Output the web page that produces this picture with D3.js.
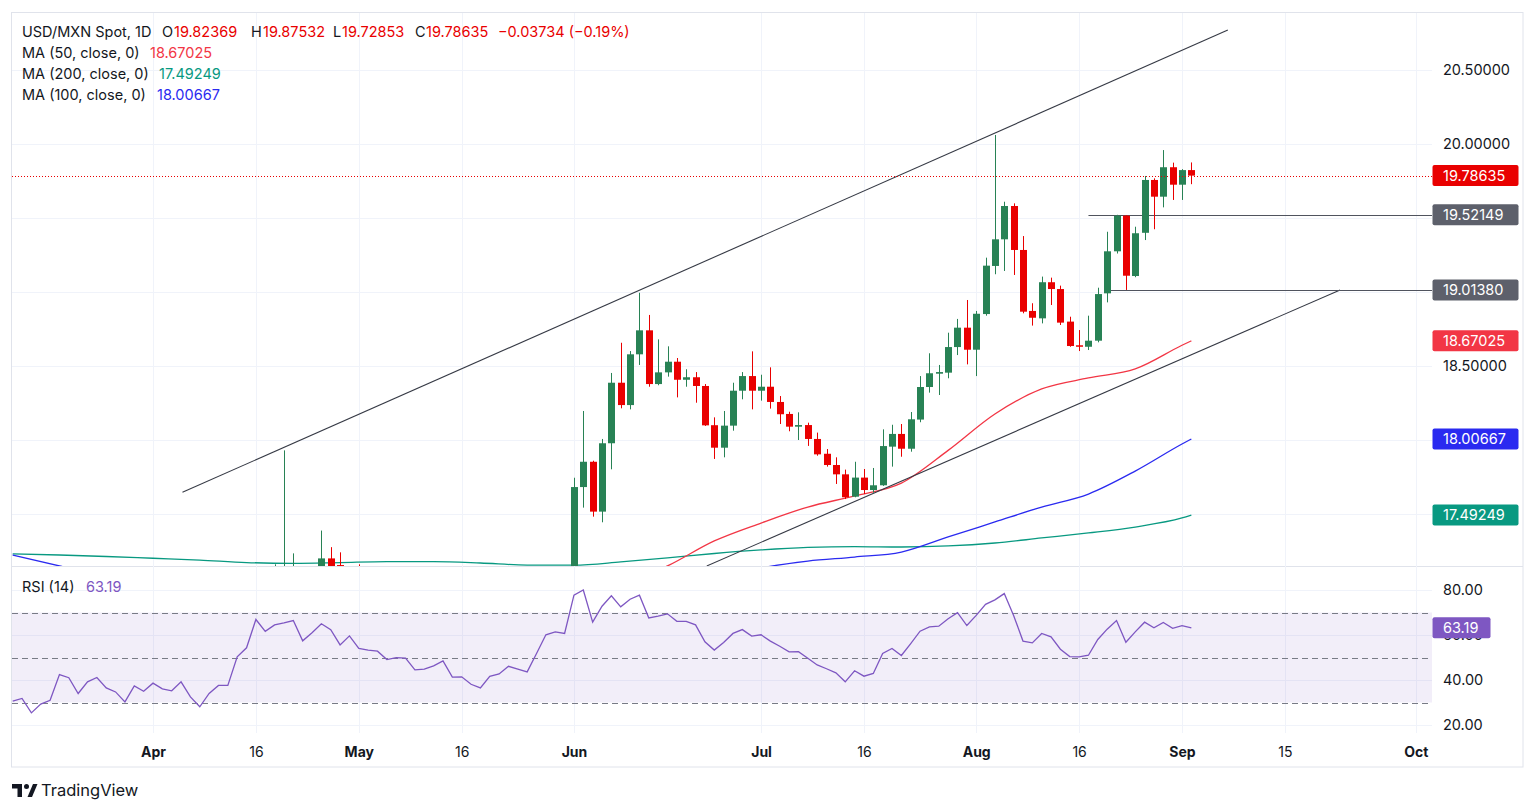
<!DOCTYPE html>
<html>
<head>
<meta charset="utf-8">
<script src="https://d3js.org/d3.v7.min.js"></script>
<style>
  html, body { margin: 0; padding: 0; background: #fff; }
  svg { display: block; font-family: Inter, "Noto Sans", Roboto, sans-serif; }
</style>
</head>
<body>
<svg id="chart" width="1536" height="811"></svg>
<script>
// ---- data (daily bars, index 0 = 11 Mar 2024) ----
const opens = [
  16.90,16.83,16.78,16.70,16.73,16.76,16.86,16.84,16.72,16.79,
  16.82,16.73,16.69,16.60,16.70,16.65,16.70,16.64,16.62,16.68,
  16.55,16.42,16.50,16.57,16.57,16.78,16.85,17.05,16.98,17.02,
  17.04,17.07,16.98,17.02,17.20,17.155,17.06,17.10,17.03,17.01,
  17.00,16.94,16.95,16.95,16.86,16.87,16.89,16.92,16.80,16.80,
  16.74,16.71,16.76,16.78,16.82,16.80,16.78,16.87,17.00,17.02,
  17.00,17.682,17.853,17.516,17.978,18.387,18.236,18.579,18.741,18.378,
  18.457,18.529,18.407,18.424,18.365,18.100,17.948,18.097,18.333,18.432,
  18.333,18.360,18.257,18.176,18.090,18.101,18.007,17.907,17.831,17.768,
  17.617,17.746,17.662,17.694,17.955,18.041,17.941,18.138,18.358,18.448,
  18.455,18.628,18.759,18.610,18.851,19.176,19.356,19.581,19.284,18.872,
  18.822,19.066,19.020,18.800,18.640,18.630,18.671,18.991,19.275,19.516,
  19.108,19.400,19.757,19.644,19.843,19.725,19.82369
];
const highs = [
  16.93,16.88,16.82,16.78,16.80,16.90,16.92,16.95,16.83,16.88,
  16.85,16.78,16.72,16.74,16.72,16.74,16.75,16.70,16.72,16.72,
  16.58,16.55,16.62,16.64,16.85,16.94,17.10,17.12,17.16,17.93,
  17.234,17.12,17.08,17.388,17.276,17.241,17.13,17.16,17.08,17.06,
  17.03,17.00,17.02,16.98,16.92,16.95,16.98,16.94,16.86,16.83,
  16.78,16.80,16.84,16.88,16.86,16.84,16.92,17.05,17.10,17.10,
  17.745,18.196,17.860,18.007,18.453,18.657,18.601,18.995,18.845,18.680,
  18.633,18.554,18.478,18.459,18.378,18.153,18.196,18.387,18.459,18.599,
  18.441,18.491,18.297,18.191,18.187,18.117,18.050,17.939,17.883,17.800,
  17.853,17.804,17.811,18.072,18.103,18.108,18.189,18.432,18.586,18.507,
  18.725,18.818,18.946,18.872,19.232,20.061,19.610,19.599,19.378,18.924,
  19.104,19.097,19.043,18.833,18.743,18.840,19.029,19.407,19.5215,19.520,
  19.441,19.784,19.768,19.959,19.874,19.830,19.87532
];
const lows = [
  16.78,16.75,16.66,16.66,16.68,16.72,16.79,16.70,16.64,16.74,
  16.70,16.66,16.56,16.55,16.62,16.60,16.58,16.56,16.48,16.50,
  16.34,16.26,16.40,16.46,16.54,16.72,16.82,16.92,16.94,16.98,
  16.99,16.95,16.92,16.98,17.08,17.02,16.98,16.98,16.92,16.88,
  16.88,16.88,16.90,16.82,16.80,16.82,16.84,16.74,16.72,16.60,
  16.62,16.66,16.70,16.72,16.74,16.72,16.74,16.84,16.95,16.96,
  16.990,17.543,17.482,17.444,17.802,18.214,18.207,18.507,18.360,18.370,
  18.428,18.288,18.360,18.252,18.095,17.872,17.883,18.063,18.275,18.207,
  18.266,18.212,18.108,18.059,18.000,17.960,17.894,17.820,17.703,17.601,
  17.613,17.635,17.644,17.690,17.820,17.887,17.921,18.120,18.320,18.304,
  18.417,18.574,18.511,18.432,18.840,19.120,19.142,19.115,18.856,18.773,
  18.788,18.912,18.777,18.630,18.601,18.608,18.660,18.930,19.260,19.0138,
  19.100,19.351,19.424,19.572,19.622,19.622,19.72853
];
const closes = [
  16.83,16.78,16.70,16.73,16.76,16.86,16.84,16.72,16.79,16.82,
  16.73,16.69,16.60,16.70,16.65,16.70,16.64,16.62,16.68,16.55,
  16.42,16.50,16.57,16.57,16.78,16.85,17.05,16.98,17.02,17.04,
  17.07,16.98,17.02,17.20,17.13,17.06,17.10,17.03,17.01,17.00,
  16.94,16.95,16.95,16.86,16.87,16.89,16.92,16.80,16.80,16.74,
  16.71,16.76,16.78,16.82,16.80,16.78,16.87,17.00,17.02,17.01,
  17.682,17.853,17.516,17.978,18.387,18.236,18.579,18.741,18.378,18.457,
  18.529,18.407,18.424,18.365,18.099,17.948,18.097,18.333,18.432,18.333,
  18.360,18.257,18.174,18.090,18.101,18.007,17.903,17.831,17.768,17.613,
  17.746,17.662,17.694,17.959,18.041,17.941,18.140,18.358,18.451,18.459,
  18.628,18.759,18.610,18.853,19.178,19.356,19.581,19.284,18.867,18.826,
  19.066,19.020,18.793,18.635,18.630,18.671,18.986,19.275,19.516,19.110,
  19.397,19.757,19.644,19.843,19.725,19.82369,19.78635
];
const rsiValues = [
  30.6,31.8,25.4,29.3,31.0,42.4,41.0,34.0,39.2,41.1,
  36.5,34.7,30.3,37.4,35.0,38.6,36.1,35.2,39.2,32.5,
  28.1,34.0,37.6,37.6,50.3,54.3,66.9,61.6,64.5,65.4,
  66.4,57.4,61.0,65.0,62.4,55.6,59.6,54.0,53.3,52.8,
  49.1,49.9,49.7,44.5,44.8,46.3,48.5,41.3,41.4,38.1,
  36.5,41.6,42.7,46.1,44.8,43.6,51.8,60.1,61.4,60.7,
  77.7,80.0,65.7,72.8,77.4,72.5,75.9,77.7,67.6,68.4,
  69.4,66.1,66.1,64.5,57.0,53.3,56.7,60.7,62.4,59.5,
  60.1,57.3,55.0,52.5,52.6,49.7,46.7,45.0,43.2,39.2,
  44.1,41.7,42.9,51.8,54.0,50.9,56.2,61.7,63.6,63.9,
  67.2,69.9,64.2,68.7,73.6,75.6,78.4,68.7,57.3,56.5,
  60.7,59.2,53.7,50.4,50.3,51.0,58.0,62.6,66.4,56.8,
  61.4,65.7,63.2,65.6,63.0,64.2,63.19
];
// moving averages, sampled every 5 bars (+ last bar)
const maIndex = [0,5,10,15,20,25,30,35,40,45,50,55,60,65,70,75,80,85,90,95,100,105,110,115,120,125,126];
const ma50  = [16.98,16.95,16.92,16.88,16.82,16.80,16.80,16.82,16.83,16.84,16.85,16.86,16.90,17.02,17.149,17.318,17.439,17.547,17.622,17.709,17.930,18.176,18.345,18.419,18.480,18.640,18.67025];
const ma100 = [17.223,17.149,17.08,17.03,16.98,16.95,16.93,16.92,16.92,16.91,16.90,16.89,16.90,16.95,17.00,17.06,17.135,17.182,17.209,17.243,17.345,17.446,17.547,17.635,17.790,17.973,18.00667];
const ma200 = [17.230,17.223,17.213,17.201,17.189,17.172,17.167,17.172,17.178,17.178,17.169,17.155,17.155,17.176,17.203,17.233,17.257,17.274,17.280,17.277,17.284,17.304,17.338,17.372,17.412,17.473,17.49249];

// drawings: [bar index, price]
const upperLine = [[18.15, 17.647], [129.9, 20.770]];
const lowerLine = [[74.2, 17.149], [141.9, 19.0138]];
const rayLevels = [[115.0, 19.52149], [117.4, 19.01380]];

const priceTicks = [17.5, 18.0, 18.5, 19.0, 19.5, 20.0, 20.5];
// 19.0 and 19.5 labels sit fully under the drawing badges, so only these are written
const priceLabelTicks = [17.5, 18.0, 18.5, 20.0, 20.5];
const rsiTicks = [20, 40, 60, 80];
const dateTicks = [15, 26, 37, 48, 60, 80, 91, 103, 114, 125, 136, 150];
const dateLabels = ["Apr", "16", "May", "16", "Jun", "Jul", "16", "Aug", "16", "Sep", "15", "Oct"];
const monthLabels = ["Apr", "May", "Jun", "Jul", "Aug", "Sep", "Oct"];

// ---- layout ----
const L = 12, R = 1432, mainTop = 12, mainBot = 566, rsiTop = 567, rsiBot = 740, frameR = 1523, frameB = 767;
const UP = "#288255", DOWN = "#e90000", TXT = "#131722", GRID = "#f0f3fa";

const svg = d3.select("#chart");
const x = d3.scaleLinear().domain([15, 125]).range([153, 1182]);
const y = d3.scaleLinear().domain([17.5, 20.5]).range([514, 70]);
const yr = d3.scaleLinear().domain([20, 80]).range([725, 590]);

const defs = svg.append("defs");
defs.append("clipPath").attr("id", "clipMain").append("rect")
  .attr("x", L).attr("y", mainTop).attr("width", R - L).attr("height", mainBot - mainTop);
defs.append("clipPath").attr("id", "clipRsi").append("rect")
  .attr("x", L).attr("y", rsiTop).attr("width", R - L).attr("height", rsiBot - rsiTop);

// frame
svg.append("rect").attr("x", 11.5).attr("y", 12.5).attr("width", frameR - 11.5).attr("height", frameB - 12.5)
  .attr("fill", "none").attr("stroke", "#e0e3eb");
svg.append("line").attr("x1", 11.5).attr("x2", frameR).attr("y1", rsiTop - 0.5).attr("y2", rsiTop - 0.5)
  .attr("stroke", "#e0e3eb");

// grids
svg.append("g").selectAll("line").data(dateTicks).join("line")
  .attr("x1", d => Math.round(x(d)) + 0.5).attr("x2", d => Math.round(x(d)) + 0.5)
  .attr("y1", mainTop + 1).attr("y2", 733).attr("stroke", GRID);
svg.append("g").selectAll("line").data(priceTicks).join("line")
  .attr("x1", L).attr("x2", R).attr("y1", d => Math.round(y(d)) + 0.5).attr("y2", d => Math.round(y(d)) + 0.5)
  .attr("stroke", GRID);
svg.append("g").selectAll("line").data(rsiTicks).join("line")
  .attr("x1", L).attr("x2", R).attr("y1", d => Math.round(yr(d)) + 0.5).attr("y2", d => Math.round(yr(d)) + 0.5)
  .attr("stroke", GRID);

// ---- main pane ----
const main = svg.append("g").attr("clip-path", "url(#clipMain)");

const maLine = vals => d3.line().x((d, k) => x(maIndex[k])).y(d => y(d)).curve(d3.curveMonotoneX)(vals);
main.append("path").attr("d", maLine(ma200)).attr("fill", "none").attr("stroke", "#089981").attr("stroke-width", 1.3);
main.append("path").attr("d", maLine(ma100)).attr("fill", "none").attr("stroke", "#2a2af0").attr("stroke-width", 1.3);
main.append("path").attr("d", maLine(ma50)).attr("fill", "none").attr("stroke", "#f23645").attr("stroke-width", 1.3);

// trend lines
[upperLine, lowerLine].forEach(seg => {
  main.append("line")
    .attr("x1", x(seg[0][0])).attr("y1", y(seg[0][1]))
    .attr("x2", x(seg[1][0])).attr("y2", y(seg[1][1]))
    .attr("stroke", "#363a45").attr("stroke-width", 1.1);
});
main.selectAll(".ray").data(rayLevels).join("line")
  .attr("x1", d => x(d[0])).attr("x2", R)
  .attr("y1", d => Math.round(y(d[1])) + 0.5).attr("y2", d => Math.round(y(d[1])) + 0.5)
  .attr("stroke", "#50535e").attr("stroke-width", 1.1);

// candles
const bars = d3.range(closes.length);
const cg = main.append("g");
cg.selectAll(".wick").data(bars).join("line")
  .attr("x1", i => Math.round(x(i)) + 0.5).attr("x2", i => Math.round(x(i)) + 0.5)
  .attr("y1", i => y(highs[i])).attr("y2", i => y(lows[i]))
  .attr("stroke", i => closes[i] >= opens[i] ? UP : DOWN).attr("stroke-width", 1);
cg.selectAll(".body").data(bars).join("rect")
  .attr("x", i => Math.round(x(i)) - 3)
  .attr("width", 7)
  .attr("y", i => y(Math.max(opens[i], closes[i])))
  .attr("height", i => Math.max(1, Math.abs(y(opens[i]) - y(closes[i]))))
  .attr("fill", i => closes[i] >= opens[i] ? UP : DOWN);

// last price line
const last = closes.length - 1;
main.append("line").attr("x1", L).attr("x2", R)
  .attr("y1", Math.round(y(closes[last])) + 0.5).attr("y2", Math.round(y(closes[last])) + 0.5)
  .attr("stroke", DOWN).attr("stroke-dasharray", "1,2");

// price axis
const yAxis = d3.axisRight(y).tickValues(priceLabelTicks).tickFormat(d3.format(".5f")).tickSize(0).tickPadding(11);
svg.append("g").attr("transform", `translate(${R},0)`).call(yAxis)
  .call(g => g.select(".domain").remove())
  .selectAll("text").attr("font-size", 14.5).attr("fill", TXT).attr("font-family", "Inter, sans-serif");

// ---- RSI pane ----
const rsiG = svg.append("g").attr("clip-path", "url(#clipRsi)");
rsiG.append("rect").attr("x", L).attr("width", R - L).attr("y", yr(70)).attr("height", yr(30) - yr(70))
  .attr("fill", "rgba(126,87,194,0.1)");
rsiG.selectAll(".lvl").data([70, 50, 30]).join("line")
  .attr("x1", L).attr("x2", R).attr("y1", d => Math.round(yr(d)) + 0.5).attr("y2", d => Math.round(yr(d)) + 0.5)
  .attr("stroke", "#787b86").attr("stroke-dasharray", "6,4");
rsiG.append("path")
  .attr("d", d3.line().x((d, i) => x(i)).y(d => yr(d))(rsiValues))
  .attr("fill", "none").attr("stroke", "#7e57c2").attr("stroke-width", 1.3);

const rAxis = d3.axisRight(yr).tickValues(rsiTicks).tickFormat(d3.format(".2f")).tickSize(0).tickPadding(11);
svg.append("g").attr("transform", `translate(${R},0)`).call(rAxis)
  .call(g => g.select(".domain").remove())
  .selectAll("text").attr("font-size", 14.5).attr("fill", TXT).attr("font-family", "Inter, sans-serif");

// ---- time axis ----
const xAxis = d3.axisBottom(x).tickValues(dateTicks).tickFormat((d, k) => dateLabels[k]).tickSize(0).tickPadding(7);
svg.append("g").attr("transform", `translate(0,${rsiBot})`).call(xAxis)
  .call(g => g.select(".domain").remove())
  .selectAll("text").attr("font-size", 14).attr("fill", TXT).attr("font-family", "Inter, sans-serif")
  .attr("font-weight", function() { return monthLabels.includes(d3.select(this).text()) ? 700 : 400; });

// ---- right side badges ----
const badges = [
  { v: closes[last], c: DOWN, t: d3.format(".5f")(closes[last]), s: y },
  { v: rayLevels[0][1], c: "#5d606b", t: d3.format(".5f")(rayLevels[0][1]), s: y },
  { v: rayLevels[1][1], c: "#5d606b", t: d3.format(".5f")(rayLevels[1][1]), s: y },
  { v: ma50[ma50.length - 1], c: "#f23645", t: d3.format(".5f")(ma50[ma50.length - 1]), s: y },
  { v: ma100[ma100.length - 1], c: "#2a2af0", t: d3.format(".5f")(ma100[ma100.length - 1]), s: y },
  { v: ma200[ma200.length - 1], c: "#089981", t: d3.format(".5f")(ma200[ma200.length - 1]), s: y },
  { v: rsiValues[last], c: "#7e57c2", t: d3.format(".2f")(rsiValues[last]), s: yr }
];
const bg = svg.append("g").selectAll("g").data(badges).join("g")
  .attr("transform", d => `translate(${R},${d.s(d.v)})`);
bg.append("rect").attr("x", 0.5).attr("y", -10.5).attr("width", d => d.s === yr ? 58 : 86).attr("height", 21)
  .attr("rx", 2).attr("fill", d => d.c);
bg.append("text").attr("x", 11).attr("dy", "0.35em").attr("font-size", 14.5).attr("fill", "#fff")
  .text(d => d.t);

// ---- legend texts ----
const fmt5 = d3.format(".5f");
const chg = closes[last] - closes[last - 1];
const pct = chg / closes[last - 1] * 100;
const minus = s => s.replace("-", "\u2212");
const head = svg.append("g").attr("font-size", 14.5);
const row1 = [
  ["USD/MXN Spot, 1D", 22, TXT],
  ["O", 162, TXT], [fmt5(opens[last]), 174, DOWN],
  ["H", 251, TXT], [fmt5(highs[last]), 263, DOWN],
  ["L", 333, TXT], [fmt5(lows[last]), 342, DOWN],
  ["C", 415, TXT], [fmt5(closes[last]), 426, DOWN],
  [minus(fmt5(chg)) + " (" + minus(d3.format(".2f")(pct)) + "%)", 498, DOWN]
];
head.selectAll(".r1").data(row1).join("text")
  .attr("x", d => d[1]).attr("y", 37).attr("fill", d => d[2]).text(d => d[0]);
const maRows = [
  ["MA (50, close, 0)", fmt5(ma50[ma50.length - 1]), "#f23645", 150],
  ["MA (200, close, 0)", fmt5(ma200[ma200.length - 1]), "#089981", 159],
  ["MA (100, close, 0)", fmt5(ma100[ma100.length - 1]), "#2a2af0", 157]
];
maRows.forEach((r, k) => {
  head.append("text").attr("x", 22).attr("y", 58 + k * 21).attr("fill", TXT).text(r[0]);
  head.append("text").attr("x", r[3]).attr("y", 58 + k * 21).attr("fill", r[2]).text(r[1]);
});
head.append("text").attr("x", 22).attr("y", 592).attr("fill", TXT).text("RSI (14)");
head.append("text").attr("x", 86).attr("y", 592).attr("fill", "#7e57c2").text(d3.format(".2f")(rsiValues[last]));

// ---- logo ----
const logo = svg.append("g").attr("fill", TXT);
logo.append("path").attr("d", "M12 784 h10 v13 h-4.5 v-8.5 h-5.5 z");
logo.append("circle").attr("cx", 26.5).attr("cy", 786.5).attr("r", 2.5);
logo.append("path").attr("d", "M27.5 797 l5.5 -13 h4.5 l-5.5 13 z");
logo.append("text").attr("x", 41).attr("y", 796).attr("font-size", 16.5).attr("fill", TXT).text("TradingView");
</script>
</body>
</html>
